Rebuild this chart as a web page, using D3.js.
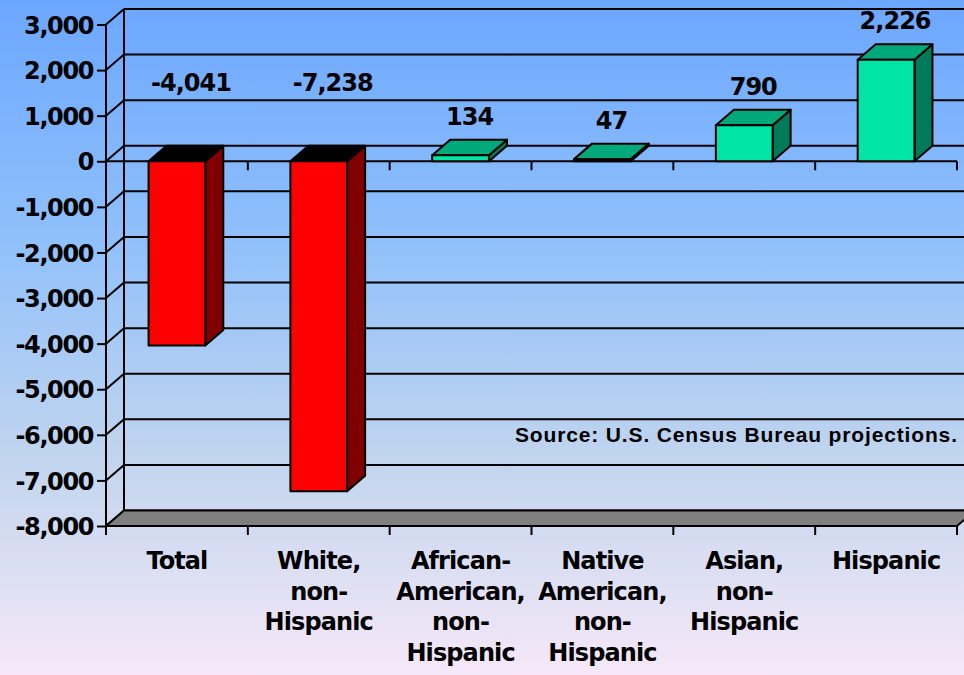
<!DOCTYPE html>
<html>
<head>
<meta charset="utf-8">
<script src="https://cdn.jsdelivr.net/npm/d3@7"></script>
<style>
  html, body { margin: 0; padding: 0; background: #fff; }
  svg { display: block; }
</style>
</head>
<body>
<svg id="chart" width="964" height="675"></svg>
<script>
// Population change by group (thousands)
const categories = [
  ["Total"],
  ["White,", "non-", "Hispanic"],
  ["African-", "American,", "non-", "Hispanic"],
  ["Native", "American,", "non-", "Hispanic"],
  ["Asian,", "non-", "Hispanic"],
  ["Hispanic"]
];
const values = [-4041, -7238, 134, 47, 790, 2226];
const yTicks = [3000, 2000, 1000, 0, -1000, -2000, -3000, -4000, -5000, -6000, -7000, -8000];
const sourceNote = "Source: U.S. Census Bureau projections.";

const W = 964, H = 675;
const svg = d3.select("#chart");

// page background gradient
const defs = svg.append("defs");
const grad = defs.append("linearGradient").attr("id", "bg")
  .attr("x1", 0).attr("y1", 0).attr("x2", 0).attr("y2", 1);
[[0, "#6ca7ff"], [0.35, "#8fc0fb"], [0.7, "#c4d6ee"], [1, "#f6e8f8"]].forEach(([o, c]) =>
  grad.append("stop").attr("offset", o).attr("stop-color", c));
svg.append("rect").attr("width", W).attr("height", H).attr("fill", "url(#bg)");

// plot geometry
const left = 106, right = 957;
const depthX = 18, depthY = -15.5;

const y = d3.scaleLinear().domain([-8000, 3000]).range([526, 24.5]);
const keys = categories.map((c, i) => i);
const xCat = d3.scaleBand().domain(keys).range([left, right]);
const xBar = d3.scaleBand().domain(keys).range([left, right]).paddingInner(0.6).paddingOuter(0.3);

// thousands separator with a plain hyphen for negatives
const fmt = d3.formatLocale({ decimal: ".", thousands: ",", grouping: [3], currency: ["", ""], minus: "-" }).format(",");

const ink = "#000";
const lw = 2;
const fontMain = "'DejaVu Sans', Verdana, sans-serif";

const g = svg.append("g");

// back wall: grid lines and edges
const backTop = y(3000) + depthY, backBottom = y(-8000) + depthY;
yTicks.forEach(t => {
  g.append("line")
    .attr("x1", left + depthX).attr("x2", right + depthX + 30)
    .attr("y1", y(t) + depthY).attr("y2", y(t) + depthY)
    .attr("stroke", ink).attr("stroke-width", lw);
  // side wall diagonals
  g.append("line")
    .attr("x1", left).attr("y1", y(t))
    .attr("x2", left + depthX).attr("y2", y(t) + depthY)
    .attr("stroke", ink).attr("stroke-width", lw);
});
g.append("line")
  .attr("x1", left + depthX).attr("x2", left + depthX)
  .attr("y1", backTop).attr("y2", backBottom)
  .attr("stroke", ink).attr("stroke-width", lw);

// floor
g.append("polygon")
  .attr("points", [
    [left, y(-8000)], [right, y(-8000)],
    [right + depthX, y(-8000) + depthY], [left + depthX, y(-8000) + depthY]
  ].map(p => p.join(",")).join(" "))
  .attr("fill", "#808080").attr("stroke", ink).attr("stroke-width", lw)
  .attr("stroke-linejoin", "round");

// front vertical axis with ticks and labels
const yAxis = d3.axisLeft(y).tickValues(yTicks).tickSize(9).tickPadding(4)
  .tickFormat(fmt);
const ya = g.append("g").attr("transform", `translate(${left},0)`).call(yAxis);
ya.select(".domain").attr("stroke", ink).attr("stroke-width", lw)
  .attr("d", `M0,${y(3000)}V${y(-8000) + 9}`);
ya.selectAll(".tick line").attr("stroke", ink).attr("stroke-width", lw);
ya.selectAll(".tick text")
  .attr("fill", ink)
  .attr("dy", "0.36em")
  .style("font-family", fontMain)
  .style("font-weight", "bold")
  .style("font-size", "24px")
  .style("letter-spacing", "-1.4px");

// category axes: zero line and floor front edge, both with boundary ticks
const bounds = keys.map(k => xCat(k)).concat([right]);
[y(0), y(-8000)].forEach(yy => {
  g.append("line").attr("x1", left).attr("x2", right).attr("y1", yy).attr("y2", yy)
    .attr("stroke", ink).attr("stroke-width", lw);
  bounds.forEach(bx => {
    g.append("line").attr("x1", bx).attr("x2", bx).attr("y1", yy).attr("y2", yy + 9)
      .attr("stroke", ink).attr("stroke-width", lw);
  });
});

// 3D columns
const colors = {
  neg: { front: "#ff0000", side: "#800000", top: "#000000" },
  pos: { front: "#00e4a6", side: "#007a58", top: "#00a87a" }
};
const bars = g.append("g");
values.forEach((v, i) => {
  const c = v < 0 ? colors.neg : colors.pos;
  const x0 = xBar(i), w = xBar.bandwidth();
  const top = Math.min(y(0), y(v)), bot = Math.max(y(0), y(v));
  const poly = pts => pts.map(p => p.join(",")).join(" ");
  const bg = bars.append("g").attr("stroke", ink).attr("stroke-width", lw)
    .attr("stroke-linejoin", "round");
  bg.append("polygon").attr("fill", c.side).attr("points", poly([
    [x0 + w, top], [x0 + w + depthX, top + depthY],
    [x0 + w + depthX, bot + depthY], [x0 + w, bot]
  ]));
  bg.append("polygon").attr("fill", c.top).attr("points", poly([
    [x0, top], [x0 + w, top], [x0 + w + depthX, top + depthY], [x0 + depthX, top + depthY]
  ]));
  bg.append("rect").attr("fill", c.front)
    .attr("x", x0).attr("y", top).attr("width", w).attr("height", bot - top);
});

// value labels
values.forEach((v, i) => {
  const cx = xBar(i) + xBar.bandwidth() / 2 + depthX / 2 + (v < 0 ? 5 : 0);
  const by = v >= 0 ? y(v) + depthY - 15 : y(0) - 70;
  g.append("text")
    .attr("x", cx).attr("y", by)
    .attr("text-anchor", "middle")
    .style("font-family", fontMain)
    .style("font-weight", "bold")
    .style("font-size", "24px")
    .style("letter-spacing", "-1px")
    .attr("fill", ink)
    .text(fmt(v));
});

// category labels
categories.forEach((lines, i) => {
  const cx = xCat(i) + xCat.bandwidth() / 2;
  const t = g.append("text")
    .attr("text-anchor", "middle")
    .style("font-family", fontMain)
    .style("font-weight", "bold")
    .style("font-size", "24px")
    .style("letter-spacing", "-0.9px")
    .attr("fill", ink);
  lines.forEach((ln, j) => {
    t.append("tspan").attr("x", cx).attr("y", 569 + j * 30.6).text(ln);
  });
});

// source note
g.append("text")
  .attr("x", right).attr("y", 442)
  .attr("text-anchor", "end")
  .attr("textLength", 442).attr("lengthAdjust", "spacing")
  .style("font-family", "'Liberation Sans', Arial, sans-serif")
  .style("font-weight", "bold")
  .style("font-size", "21px")
  .attr("fill", ink)
  .text(sourceNote);
</script>
</body>
</html>
